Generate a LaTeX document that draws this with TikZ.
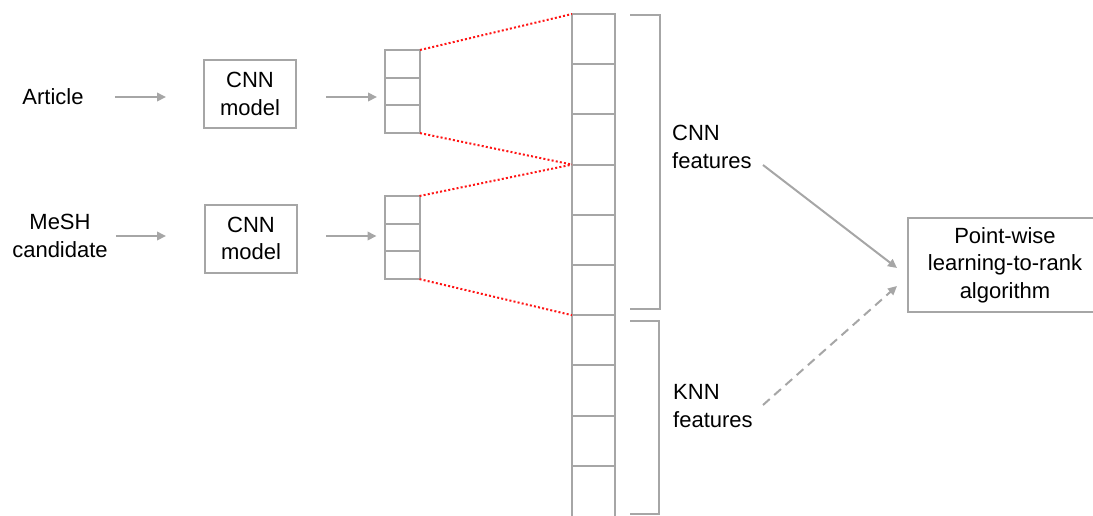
\documentclass[tikz,border=0pt]{standalone}
\usepackage{fontspec}
\setmainfont{Liberation Sans}
\usetikzlibrary{arrows.meta,calc}
\definecolor{linegray}{RGB}{166,166,166}
\definecolor{dotred}{RGB}{255,20,20}
\begin{document}
\begin{tikzpicture}[x=1pt,y=-1pt,
  every node/.style={font=\fontsize{22}{27.5}\selectfont, text=black},
  label/.style={inner sep=0pt, align=center},
  modelbox/.style={draw=linegray, line width=2pt, minimum width=92pt, minimum height=68pt, inner sep=0pt, align=center},
  cell/.style={draw=linegray, line width=2pt, minimum width=35pt, minimum height=27.7pt, inner sep=0pt, outer sep=0pt},
  bigcell/.style={draw=linegray, line width=2pt, minimum width=43pt, minimum height=50.2pt, inner sep=0pt, outer sep=0pt},
  arr/.style={draw=linegray, line width=2pt, -{Triangle[length=9pt,width=8.5pt]}},
  dasharr/.style={arr, dash pattern=on 9pt off 6pt},
  link/.style={draw=dotred, line width=2pt, dash pattern=on 2pt off 2.2pt},
  bracket/.style={draw=linegray, line width=2pt}
]
\useasboundingbox (0,0) rectangle (1093,515);

% inputs
\node[label] (article) at (53,97) {Article};
\node[label] (mesh) at (60,236) {MeSH\\candidate};

% CNN encoders
\node[modelbox] (cnn1) at (250,94) {CNN\\model};
\node[modelbox] (cnn2) at (251,238.5) {CNN\\model};

% small output vectors
\foreach \i/\n in {0/a,1/b,2/c}{
  \node[cell] (st1\n) at (402.5,{63.85+27.7*\i}) {};
  \node[cell] (st2\n) at (402,{209.85+27.7*\i}) {};
}

% concatenated feature column
\foreach \i in {1,...,9}{
  \node[bigcell] (col\i) at (593.5,{14+25.1+50.2*(\i-1)}) {};
}
\node[bigcell, minimum height=56pt] (col10) at (593.5,{14+50.2*9+28}) {};

% brackets
\draw[bracket] (630,15) -- (660,15) -- (660,309) -- (630,309);
\draw[bracket] (630,321) -- (659,321) -- (659,514) -- (630,514);

% feature labels
\node[label, anchor=west, align=left] (cnnf) at (672,147) {CNN\\features};
\node[label, anchor=west, align=left] (knnf) at (673,406) {KNN\\features};

% ranking model
\node[draw=linegray, line width=2pt, minimum width=194pt, minimum height=94pt, inner sep=0pt, align=center] (pw) at (1005,265) {Point-wise\\learning-to-rank\\algorithm};

% input arrows
\draw[arr, shorten <=31pt, shorten >=37pt] (article.east) -- (article.east -| cnn1.west);
\draw[arr, shorten <=8pt, shorten >=38pt] (mesh.east) -- (mesh.east -| cnn2.west);
\draw[arr, shorten <=29pt, shorten >=8pt] (article.east -| cnn1.east) -- (article.east -| st1a.west);
\draw[arr, shorten <=28pt, shorten >=8pt] (mesh.east -| cnn2.east) -- (mesh.east -| st2a.west);

% projections into the feature column
\draw[link] (st1a.north east) -- (col1.north west);
\draw[link] (st1c.south east) -- (col4.north west);
\draw[link] (st2a.north east) -- (col4.north west);
\draw[link] (st2c.south east) -- (col7.north west);

% features into the ranker
\coordinate (cnnout) at (763,165);
\coordinate (knnout) at (763,405);
\draw[arr] (cnnout) -- ($(pw.west)+(-10,3)$);
\draw[dasharr] (knnout) -- ($(pw.west)+(-10,21)$);
\end{tikzpicture}
\end{document}
